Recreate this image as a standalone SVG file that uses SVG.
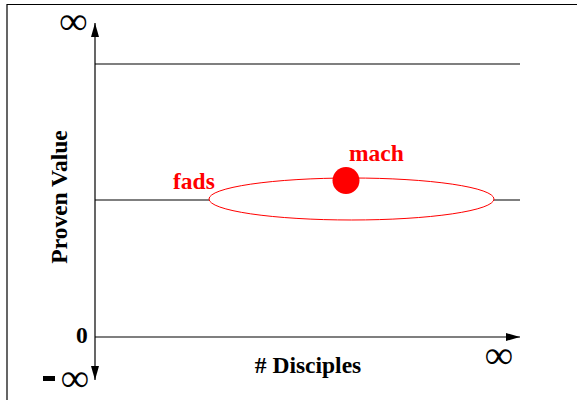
<svg xmlns="http://www.w3.org/2000/svg" width="577" height="400" viewBox="0 0 577 400">
<style>
.ln{stroke:#000;stroke-width:1.2;fill:none}
.lbl{font-family:"Liberation Serif","Times New Roman",serif;font-weight:bold;font-size:23.5px;fill:#000}
.red{fill:#ff0000}
.inf{font-family:"Liberation Serif","DejaVu Serif",serif;font-weight:bold;font-size:39px;fill:#000}
</style>
<defs>
<marker id="ah" viewBox="0 0 14 8" refX="14" refY="4" markerWidth="14" markerHeight="8" markerUnits="userSpaceOnUse" orient="auto">
<path d="M0,0 L14,4 L0,8 Z" fill="#000"/>
</marker>
</defs>
<rect width="577" height="400" fill="#fff"/>
<g id="frame"><path class="ln" d="M7,400 V4.5 H577" stroke-width="1.4"/></g>
<g id="connectors">
<line class="ln" x1="95" y1="337" x2="95" y2="23" marker-end="url(#ah)"/>
<line class="ln" x1="95" y1="337" x2="95" y2="380" marker-end="url(#ah)"/>
<line class="ln" x1="95" y1="337" x2="520" y2="337" marker-end="url(#ah)"/>
<line class="ln" x1="95" y1="64" x2="520" y2="64"/>
<line class="ln" x1="95" y1="200" x2="520" y2="200"/>
</g>
<g id="fads">
<ellipse cx="351.5" cy="199" rx="142.5" ry="21" fill="#fff" stroke="#ff0000" stroke-width="1"/>
<text class="lbl red" x="173" y="189">fads</text>
</g>
<g id="mach">
<circle cx="346" cy="180.5" r="13.5" fill="#ff0000"/>
<text class="lbl red" x="349" y="161">mach</text>
</g>
<g id="labels">
<text class="lbl" transform="translate(67,197) rotate(-90)" text-anchor="middle" font-size="24">Proven Value</text>
<text class="lbl" x="308" y="373" text-anchor="middle"># Disciples</text>
<text class="lbl" x="76" y="343">0</text>
<text class="inf" x="73.5" y="34" text-anchor="middle">∞</text>
<text class="inf" x="499" y="368" text-anchor="middle">∞</text>
<rect x="43" y="376" width="12" height="5" fill="#000"/>
<text class="inf" x="75" y="391" text-anchor="middle">∞</text>
</g>
</svg>
